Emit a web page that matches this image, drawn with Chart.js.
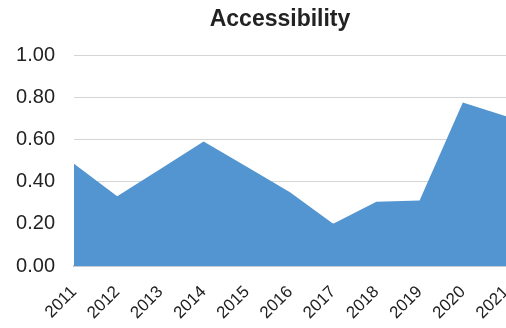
<!DOCTYPE html>
<html>
<head>
<meta charset="utf-8">
<script src="https://cdn.jsdelivr.net/npm/chart.js@4/dist/chart.umd.min.js"></script>
<style>
  html, body { margin: 0; padding: 0; background: #ffffff; }
  #wrap { width: 506px; height: 328px; }
</style>
</head>
<body>
<div id="wrap"><canvas id="accessChart" width="506" height="328"></canvas></div>
<script>
/* values */
var years = ['2011', '2012', '2013', '2014', '2015', '2016', '2017', '2018', '2019', '2020', '2021'];
var accessibility = [0.485, 0.33, 0.46, 0.59, 0.47, 0.35, 0.20, 0.305, 0.31, 0.775, 0.71];
var yTicks = [0, 0.2, 0.4, 0.6, 0.8, 1.0];
var chartTitle = 'Accessibility';

var fontName = '"Liberation Sans", Arial, sans-serif';

// title drawn by hand, the original sits a bit left of the plot centre
var titlePlugin = {
    id: 'titleText',
    afterDraw: function(chart) {
        var c = chart.ctx;
        c.save();
        c.font = 'bold 23px ' + fontName;
        c.fillStyle = '#222222';
        c.textAlign = 'center';
        c.textBaseline = 'middle';
        c.fillText(chartTitle, 280, 20);
        c.restore();
    }
};

var ctx = document.getElementById('accessChart').getContext('2d');
var accessChart = new Chart(ctx, {
    type: 'line',
    data: {
        labels: years,
        datasets: [{
            label: chartTitle,
            data: accessibility,
            fill: 'origin',
            backgroundColor: '#5395D0',
            borderWidth: 0,
            pointRadius: 0,
            tension: 0
        }]
    },
    options: {
        responsive: false,
        animation: false,
        layout: { padding: { left: 15, right: 0, top: 55, bottom: 0 } },
        plugins: {
            legend: { display: false },
            tooltip: { enabled: false }
        },
        scales: {
            x: {
                offset: false,
                grid: { display: false, drawTicks: false },
                border: { display: true, color: '#c8ccd4', width: 2 },
                ticks: {
                    color: '#222222',
                    font: { family: fontName, size: 17 },
                    minRotation: 45,
                    maxRotation: 45,
                    padding: 16
                },
                afterFit: function(axis) {
                    axis.paddingLeft = 0;
                    axis.paddingRight = 0;
                    axis.height = 62;
                }
            },
            y: {
                min: 0,
                max: 1,
                afterBuildTicks: function(axis) {
                    axis.ticks = yTicks.map(function(v) { return { value: v }; });
                },
                afterFit: function(axis) {
                    axis.width = 59;
                },
                grid: { color: '#d4d4d4', drawTicks: false },
                border: { display: false },
                ticks: {
                    color: '#222222',
                    font: { family: fontName, size: 20 },
                    padding: 19,
                    callback: function(v) { return Number(v).toFixed(2); }
                }
            }
        }
    },
    plugins: [titlePlugin]
});
</script>
</body>
</html>
